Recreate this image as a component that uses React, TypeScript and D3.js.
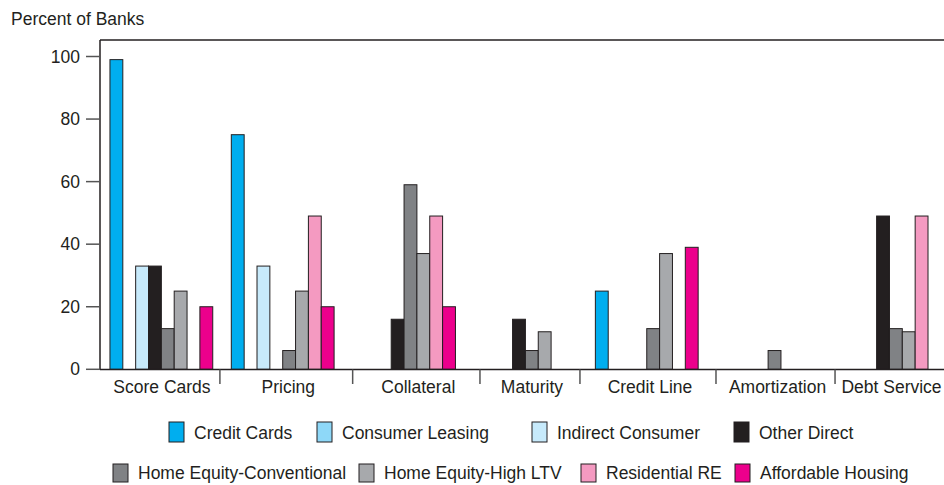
import React from "react";
import * as d3 from "d3";

const categories = ["Score Cards", "Pricing", "Collateral", "Maturity", "Credit Line", "Amortization", "Debt Service"];
const seriesNames = [
  "Credit Cards",
  "Consumer Leasing",
  "Indirect Consumer",
  "Other Direct",
  "Home Equity-Conventional",
  "Home Equity-High LTV",
  "Residential RE",
  "Affordable Housing",
];
const creditCards = [99, 75, 0, 0, 25, 0, 0];
const consumerLeasing = [0, 0, 0, 0, 0, 0, 0];
const indirectConsumer = [33, 33, 0, 0, 0, 0, 0];
const otherDirect = [33, 0, 16, 16, 0, 0, 49];
const homeEquityConventional = [13, 6, 59, 6, 13, 6, 13];
const homeEquityHighLTV = [25, 25, 37, 12, 37, 0, 12];
const residentialRE = [0, 49, 49, 0, 0, 0, 49];
const affordableHousing = [20, 20, 20, 0, 39, 0, 0];
const yTicks = [0, 20, 40, 60, 80, 100];
// label separators, in category-index units
const separators = [0.906, 2.0, 3.049, 3.873, 4.994, 5.975];

const seriesValues = [
  creditCards,
  consumerLeasing,
  indirectConsumer,
  otherDirect,
  homeEquityConventional,
  homeEquityHighLTV,
  residentialRE,
  affordableHousing,
];
const colors = ["#00aeef", "#8ed8f8", "#c7eafb", "#231f20", "#808285", "#a7a9ac", "#f49ac1", "#ec008c"];

// legend layout
const legendRows = [
  { items: [0, 1, 2, 3], xs: [169, 317, 532, 734], y: 422, h: 20, textY: 439 },
  { items: [4, 5, 6, 7], xs: [113, 359, 581, 735], y: 464, h: 18, textY: 479 },
];

const W = 944;
const H = 485;
const left = 100;
const right = 944;
const top = 40;
const bottom = 369.5;
const font = "'Liberation Sans', Arial, Helvetica, sans-serif";
const ink = "#231f20";
const fs = 17.5;

export default function App() {
  const x = d3
    .scaleBand<string>()
    .domain(categories)
    .range([left, right])
    .paddingInner(0.153)
    .paddingOuter(0.054)
    .align(0.76);
  const xs = d3.scaleBand<string>().domain(seriesNames).range([0, x.bandwidth()]).padding(0);
  const y = d3.scaleLinear().domain([0, 100]).range([369.3, 56.5]);
  const idx = d3
    .scaleLinear()
    .domain([0, 1])
    .range([x(categories[0])!, x(categories[1])!]);

  const bounds = [left, ...separators.map((s) => idx(s)), right];

  return (
    <svg width={W} height={H} style={{ position: "absolute", left: 0, top: 0, background: "#fff" }} fontFamily={font}>
      <rect x={0} y={0} width={W} height={H} fill="#fff" />
      <text x={11} y={25} fontSize={fs} fill={ink}>
        Percent of Banks
      </text>
      {/* bars */}
      {categories.map((c, ci) => (
        <g key={c} transform={`translate(${x(c)},0)`}>
          {seriesNames.map((s, si) => {
            const v = seriesValues[si][ci];
            if (!v) return null;
            return (
              <rect
                key={s}
                x={xs(s)}
                y={y(v)}
                width={xs.bandwidth()}
                height={y(0) - y(v)}
                fill={colors[si]}
                stroke={ink}
                strokeWidth={1}
              />
            );
          })}
        </g>
      ))}
      {/* frame */}
      <line x1={left} x2={right} y1={top} y2={top} stroke={ink} strokeWidth={1.5} />
      <line x1={left} x2={left} y1={top} y2={bottom} stroke={ink} strokeWidth={1.5} />
      <line x1={left} x2={right} y1={bottom} y2={bottom} stroke={ink} strokeWidth={1.5} />
      {/* y ticks */}
      {yTicks.map((t) => (
        <g key={t}>
          <line x1={86} x2={left} y1={y(t)} y2={y(t)} stroke="#555" strokeWidth={1.5} />
          <text x={80} y={y(t) + 6} fontSize={fs} textAnchor="end" fill={ink}>
            {t}
          </text>
        </g>
      ))}
      {/* x separators */}
      {separators.map((s, i) => (
        <line key={i} x1={idx(s)} x2={idx(s)} y1={bottom} y2={384} stroke="#555" strokeWidth={1.5} />
      ))}
      {categories.map((c, i) => (
        <text key={c} x={(bounds[i] + bounds[i + 1]) / 2 + 2} y={393} fontSize={fs} textAnchor="middle" fill={ink}>
          {c}
        </text>
      ))}
      {/* legend */}
      {legendRows.map((row, ri) =>
        row.items.map((si, k) => (
          <g key={`${ri}-${si}`}>
            <rect x={row.xs[k]} y={row.y} width={15} height={row.h} fill={colors[si]} stroke={ink} strokeWidth={1} />
            <text x={row.xs[k] + 25} y={row.textY} fontSize={fs} fill={ink}>
              {seriesNames[si]}
            </text>
          </g>
        ))
      )}
    </svg>
  );
}
